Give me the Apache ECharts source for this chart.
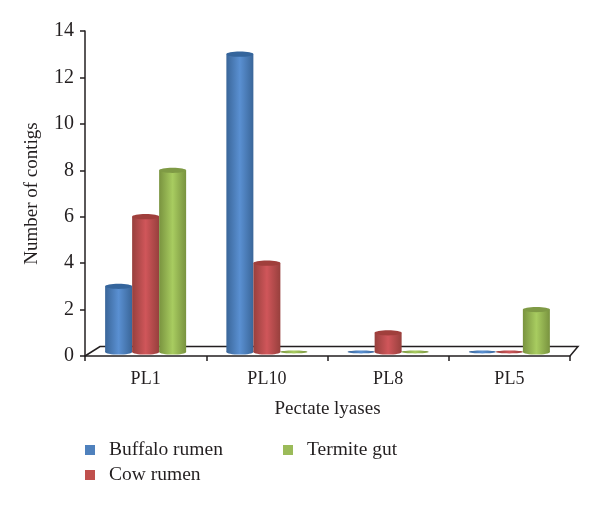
<!DOCTYPE html>
<html>
<head>
<meta charset="utf-8">
<style>
  html, body { margin: 0; background: #fff; }
  #chart { width: 600px; height: 507px; }
</style>
<script src="https://cdn.jsdelivr.net/npm/echarts@6/dist/echarts.min.js"></script>
</head>
<body>
<div id="chart"></div>
<script>
const categories = ['PL1', 'PL10', 'PL8', 'PL5']
const buffaloRumen = [3, 13, 0, 0]
const cowRumen = [6, 4, 1, 0]
const termiteGut = [8, 0, 0, 2]
const yTicks = { min: 0, max: 14, interval: 2 }

const font = '"Liberation Serif", serif'
const ink = '#231f20'

const chart = echarts.init(document.getElementById('chart'))

function gradient(edge, mid) {
    return new echarts.graphic.LinearGradient(0, 0, 1, 0, [
        { offset: 0, color: edge },
        { offset: 0.5, color: mid },
        { offset: 1, color: edge }
    ])
}

// one cylinder per data item, 3 bars side by side in a category
function cylinder(slot, colors) {
    return function(params, api) {
        const bandWidth = api.size([1, 0])[0]
        const barWidth = bandWidth * 0.2227
        const center = api.coord([api.value(0), 0])[0] + slot * barWidth
        const zeroY = api.coord([0, 0])[1]
        const baseY = zeroY - 4
        const topY = api.coord([0, api.value(1)])[1]
        const rx = barWidth / 2
        const fill = gradient(colors.edge, colors.mid)

        if (api.value(1) === 0) {
            return {
                type: 'ellipse',
                shape: { cx: center, cy: baseY, rx: rx, ry: 1.4 },
                style: { fill: fill }
            }
        }
        return {
            type: 'group',
            children: [
                {
                    type: 'ellipse',
                    shape: { cx: center, cy: baseY, rx: rx, ry: 2.6 },
                    style: { fill: fill }
                },
                {
                    type: 'rect',
                    shape: { x: center - rx, y: topY, width: barWidth, height: baseY - topY },
                    style: { fill: fill }
                },
                {
                    type: 'ellipse',
                    shape: { cx: center, cy: topY, rx: rx, ry: 2.6 },
                    style: { fill: colors.cap }
                }
            ]
        }
    }
}

function renderFloor(params) {
    const box = params.coordSys
    const bottom = box.y + box.height
    return {
        type: 'polyline',
        shape: {
            points: [
                [box.x, bottom],
                [box.x + 15, bottom - 9.5],
                [box.x + box.width + 8, bottom - 9.5],
                [box.x + box.width, bottom]
            ]
        },
        style: { fill: 'none', stroke: ink, lineWidth: 1.5 }
    }
}

function barSeries(name, values, slot, colors) {
    return {
        name: name,
        type: 'custom',
        z: 3,
        itemStyle: { color: colors.flat },
        renderItem: cylinder(slot, colors),
        encode: { x: 0, y: 1 },
        data: values.map((v, i) => [i, v])
    }
}

function legendAt(name, left, top) {
    return {
        data: [name],
        left: left,
        top: top,
        padding: 0,
        itemWidth: 10,
        itemHeight: 10,
        icon: 'rect',
        selectedMode: false,
        textStyle: { fontFamily: font, fontSize: 19.5, color: ink, padding: [0, 0, 0, 9] }
    }
}

const option = {
    backgroundColor: '#fff',
    animation: false,
    grid: { left: 85, right: 30, top: 31, bottom: 151 },
    legend: [
        legendAt('Buffalo rumen', 85, 440),
        legendAt('Cow rumen', 85, 465),
        legendAt('Termite gut', 283, 440)
    ],
    xAxis: {
        type: 'category',
        data: categories,
        name: 'Pectate lyases',
        nameLocation: 'middle',
        nameGap: 44,
        nameTextStyle: { fontFamily: font, fontSize: 19, color: ink },
        axisLine: { lineStyle: { color: ink, width: 1.5 } },
        axisTick: { show: true, length: 5, lineStyle: { color: ink, width: 1.5 } },
        axisLabel: { fontFamily: font, fontSize: 18, color: ink, margin: 14 },
        splitLine: { show: false }
    },
    yAxis: {
        type: 'value',
        min: yTicks.min,
        max: yTicks.max,
        interval: yTicks.interval,
        name: 'Number of contigs',
        nameLocation: 'middle',
        nameGap: 43,
        nameTextStyle: { fontFamily: font, fontSize: 19, color: ink },
        axisLine: { show: true, lineStyle: { color: ink, width: 1.5 } },
        axisTick: { show: true, length: 5, lineStyle: { color: ink, width: 1.5 } },
        axisLabel: { fontFamily: font, fontSize: 20, color: ink, margin: 11 },
        splitLine: { show: false }
    },
    series: [
        {
            type: 'custom',
            silent: true,
            z: 1,
            renderItem: renderFloor,
            data: [[0, 0]]
        },
        barSeries('Buffalo rumen', buffaloRumen, -1, { edge: '#3a6699', mid: '#5a90d2', cap: '#35659c', flat: '#4f81bd' }),
        barSeries('Cow rumen', cowRumen, 0, { edge: '#97403d', mid: '#d0565a', cap: '#a03f3c', flat: '#c0504d' }),
        barSeries('Termite gut', termiteGut, 1, { edge: '#79933f', mid: '#a8cc60', cap: '#7f9a45', flat: '#9bbb59' })
    ]
}

chart.setOption(option)
window.addEventListener('resize', () => {
    chart.resize()
})
</script>
</body>
</html>
